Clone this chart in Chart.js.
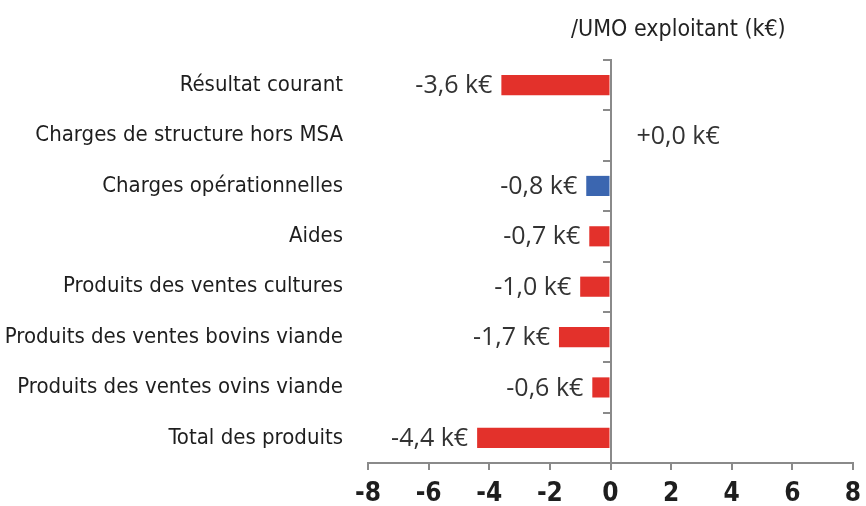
<!DOCTYPE html>
<html>
<head>
<meta charset="utf-8">
<script src="https://cdn.jsdelivr.net/npm/chart.js@4/dist/chart.umd.min.js"></script>
<style>
    html, body { margin: 0; padding: 0; background: #fff; }
    #wrap { width: 866px; height: 506px; }
</style>
</head>
<body>
<div id="wrap"><canvas id="chartUmo"></canvas></div>
<script>
const categories = [
    'Résultat courant',
    'Charges de structure hors MSA',
    'Charges opérationnelles',
    'Aides',
    'Produits des ventes cultures',
    'Produits des ventes bovins viande',
    'Produits des ventes ovins viande',
    'Total des produits'
];
const values = [-3.6, 0.0, -0.8, -0.7, -1.0, -1.7, -0.6, -4.4];
const barColors = ['#e3312b', '#e3312b', '#3b66b0', '#e3312b', '#e3312b', '#e3312b', '#e3312b', '#e3312b'];
const xTicks = [-8, -6, -4, -2, 0, 2, 4, 6, 8];
const titre = '/UMO exploitant (k€)';

const condensed = "'DejaVu Sans Condensed', 'Liberation Sans Narrow', sans-serif";

// libellés de valeur au bout des barres + titre
const etiquettes = {
    id: 'etiquettes',
    afterDatasetsDraw(chart) {
        const ctx = chart.ctx;
        const meta = chart.getDatasetMeta(0);
        ctx.save();
        ctx.font = "25px 'Open Sans', sans-serif";
        ctx.fillStyle = '#333';
        ctx.textBaseline = 'middle';
        meta.data.forEach((bar, i) => {
            const v = values[i];
            const txt = (v >= 0 ? '+' : '') + v.toFixed(1).replace('.', ',') + ' k€';
            if (v >= 0) {
                ctx.textAlign = 'left';
                ctx.fillText(txt, bar.x + 26, bar.y + 1);
            } else {
                ctx.textAlign = 'right';
                ctx.fillText(txt, bar.x - 9, bar.y + 1);
            }
        });
        ctx.font = "23px " + condensed;
        ctx.fillStyle = '#222';
        ctx.textAlign = 'center';
        ctx.fillText(titre, chart.chartArea.left + chart.chartArea.width * 0.64, 30);
        ctx.restore();
    }
};

const ctx = document.getElementById('chartUmo').getContext('2d');
new Chart(ctx, {
    type: 'bar',
    data: {
        labels: categories,
        datasets: [{
            data: values,
            backgroundColor: barColors,
            borderWidth: 0,
            barPercentage: 0.4,
            categoryPercentage: 1,
            yAxisID: 'y'
        }]
    },
    options: {
        indexAxis: 'y',
        responsive: true,
        maintainAspectRatio: false,
        animation: false,
        layout: { padding: { top: 60, right: 13, left: 0, bottom: -12 } },
        plugins: {
            legend: { display: false },
            tooltip: { enabled: false }
        },
        scales: {
            x: {
                min: -8,
                max: 8,
                afterBuildTicks: scale => { scale.ticks = xTicks.map(v => ({ value: v })); },
                afterFit: scale => { scale.paddingLeft = 0; scale.paddingRight = 0; },
                border: { display: true, color: '#8a8a8a', width: 2 },
                grid: { drawOnChartArea: false, drawTicks: true, tickLength: 7, color: '#8a8a8a', lineWidth: 2 },
                ticks: {
                    color: '#1e1e1e',
                    padding: 11,
                    maxRotation: 0,
                    font: { family: condensed, size: 26, weight: 'bold', lineHeight: 1 }
                }
            },
            y: {
                position: 'left',
                offset: true,
                border: { display: false },
                grid: { display: false, drawTicks: false },
                afterFit: scale => { scale.width = 368; },
                ticks: {
                    color: '#1e1e1e',
                    padding: 25,
                    font: { family: condensed, size: 22 }
                }
            },
            y0: {
                type: 'category',
                axis: 'y',
                position: { x: 0 },
                offset: true,
                border: { display: true, color: '#8a8a8a', width: 2 },
                grid: { offset: true, drawOnChartArea: false, drawTicks: true, tickLength: 7, color: '#8a8a8a', lineWidth: 2 },
                ticks: { display: false }
            }
        }
    },
    plugins: [etiquettes]
});
</script>
</body>
</html>
